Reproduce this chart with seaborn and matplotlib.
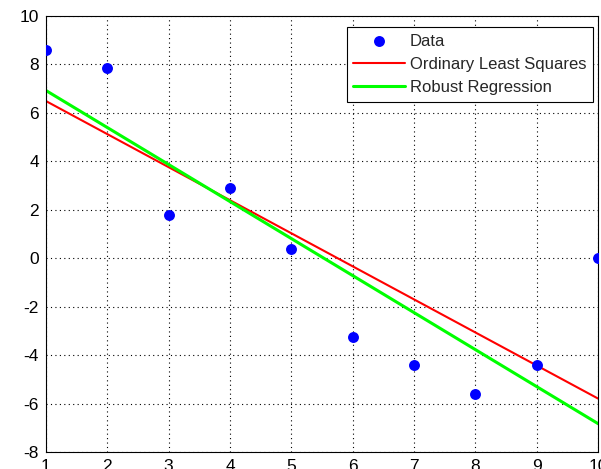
import numpy as np
import pandas as pd
import matplotlib
matplotlib.use("Agg")
import matplotlib.pyplot as plt
import seaborn as sns

x_vals = [1, 2, 3, 4, 5, 6, 7, 8, 9, 10]
y_vals = [8.6, 7.85, 1.8, 2.9, 0.4, -3.25, -4.4, -5.6, -4.4, 0.0]

# fitted coefficients [intercept, slope]
ols_coef = [7.8518, -1.3644]
robust_coef = [8.4504, -1.5278]

df = pd.DataFrame({"x": x_vals, "y": y_vals})
xs = np.array(x_vals, dtype=float)
fits = pd.DataFrame({
    "x": xs,
    "ols": ols_coef[0] + ols_coef[1] * xs,
    "robust": robust_coef[0] + robust_coef[1] * xs,
})

sns.set_style("white")
plt.rcParams["font.family"] = ["Liberation Sans", "DejaVu Sans"]
plt.rcParams["axes.unicode_minus"] = False

fig = plt.figure(figsize=(6.01, 4.69), dpi=100)
ax = fig.add_axes([46 / 601, 1 - 452 / 469, 552 / 601, 436 / 469])

sns.scatterplot(data=df, x="x", y="y", ax=ax, color="#0000ff", s=62,
                edgecolor="#0000ff", linewidth=0, label="Data", zorder=3)
sns.lineplot(data=fits, x="x", y="ols", ax=ax, color="#ff0000", linewidth=1.5,
             label="Ordinary Least Squares", zorder=2)
sns.lineplot(data=fits, x="x", y="robust", ax=ax, color="#00ff00", linewidth=2.2,
             label="Robust Regression", zorder=2)

ax.set_xlim(1, 10)
ax.set_ylim(-8, 10)
ax.set_xticks(range(1, 11))
ax.set_yticks(range(-8, 11, 2))
ax.set_xlabel("")
ax.set_ylabel("")
ax.grid(True, linestyle=(0, (1, 3)), color="black", linewidth=0.8)
ax.tick_params(direction="in", length=4, labelsize=12.5, colors="black", pad=5)
for lbl in ax.get_xticklabels() + ax.get_yticklabels():
    lbl.set_fontfamily(["Liberation Sans Narrow", "Liberation Sans"])
for sp in ax.spines.values():
    sp.set_color("black")
    sp.set_linewidth(0.8)

leg = ax.legend(loc="upper right", bbox_to_anchor=(593 / 601, 1 - 27 / 469),
                bbox_transform=fig.transFigure, fancybox=False, framealpha=1,
                edgecolor="black", fontsize=12, handlelength=3.1,
                handletextpad=0.3, borderpad=0.4, borderaxespad=0,
                labelspacing=0.5)
leg.get_frame().set_linewidth(0.8)

fig.savefig("out.png", dpi=100)
